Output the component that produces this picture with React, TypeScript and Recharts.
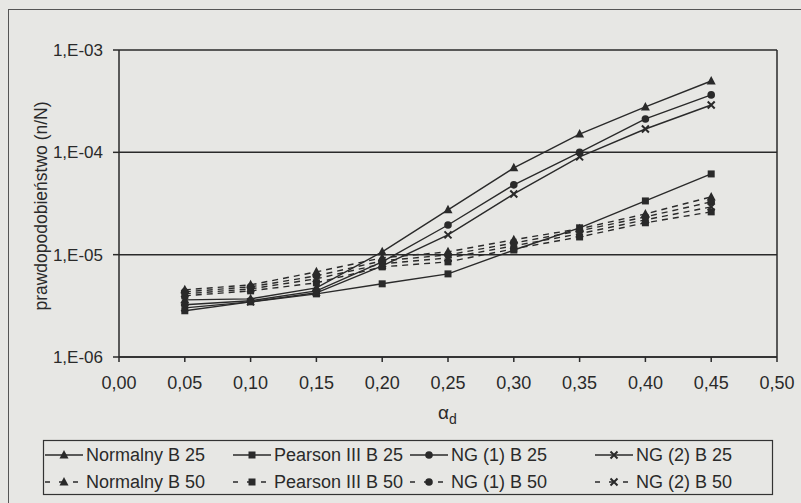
import React from 'react';
import { LineChart, Line, XAxis, YAxis, CartesianGrid, ReferenceLine } from 'recharts';

const alpha = [0.05, 0.1, 0.15, 0.2, 0.25, 0.3, 0.35, 0.4, 0.45];

// B 25 (solid)
const normalnyB25 = [3.62e-6, 3.7e-6, 4.74e-6, 1.065e-5, 2.74e-5, 7.05e-5, 1.51e-4, 2.78e-4, 4.98e-4];
const pearsonB25 = [2.83e-6, 3.46e-6, 4.14e-6, 5.19e-6, 6.49e-6, 1.11e-5, 1.83e-5, 3.35e-5, 6.15e-5];
const ng1B25 = [3.24e-6, 3.54e-6, 4.43e-6, 8.51e-6, 1.95e-5, 4.81e-5, 1.0e-4, 2.12e-4, 3.64e-4];
const ng2B25 = [3.02e-6, 3.46e-6, 4.24e-6, 7.78e-6, 1.56e-5, 3.92e-5, 9.02e-5, 1.69e-4, 2.9e-4];

// B 50 (dashed)
const normalnyB50 = [4.53e-6, 5.07e-6, 6.79e-6, 9.31e-6, 1.065e-5, 1.4e-5, 1.79e-5, 2.5e-5, 3.67e-5];
const pearsonB50 = [3.96e-6, 4.43e-6, 5.31e-6, 7.6e-6, 8.51e-6, 1.14e-5, 1.49e-5, 2.05e-5, 2.62e-5];
const ng1B50 = [4.33e-6, 4.85e-6, 6.21e-6, 8.7e-6, 9.95e-6, 1.3e-5, 1.71e-5, 2.34e-5, 3.28e-5];
const ng2B50 = [4.14e-6, 4.63e-6, 5.81e-6, 8.13e-6, 9.3e-6, 1.22e-5, 1.6e-5, 2.19e-5, 2.93e-5];

const xTicks = [0, 0.05, 0.1, 0.15, 0.2, 0.25, 0.3, 0.35, 0.4, 0.45, 0.5];
const yTicks = [1e-6, 1e-5, 1e-4, 1e-3];

const seriesNames = [
  'Normalny B 25', 'Pearson III B 25', 'NG (1) B 25', 'NG (2) B 25',
  'Normalny B 50', 'Pearson III B 50', 'NG (1) B 50', 'NG (2) B 50',
];

const data = alpha.map((a, i) => ({
  a,
  nB25: normalnyB25[i],
  pB25: pearsonB25[i],
  g1B25: ng1B25[i],
  g2B25: ng2B25[i],
  nB50: normalnyB50[i],
  pB50: pearsonB50[i],
  g1B50: ng1B50[i],
  g2B50: ng2B50[i],
}));

const INK = '#2a2a2a';
const BG = '#e7e7e4';
const FONT = '"Liberation Sans", Arial, sans-serif';

type Shape = 'tri' | 'sq' | 'circ' | 'x';

function Marker({ cx, cy, shape }: { cx: number; cy: number; shape: Shape }) {
  if (cx == null || cy == null) return null;
  if (shape === 'tri')
    return <path d={`M${cx},${cy - 5}L${cx + 4.5},${cy + 3.5}L${cx - 4.5},${cy + 3.5}Z`} fill={INK} />;
  if (shape === 'sq') return <rect x={cx - 3.5} y={cy - 3.5} width={7} height={7} fill={INK} />;
  if (shape === 'circ') return <circle cx={cx} cy={cy} r={3.8} fill={INK} />;
  return (
    <path d={`M${cx - 3.5},${cy - 3.5}L${cx + 3.5},${cy + 3.5}M${cx + 3.5},${cy - 3.5}L${cx - 3.5},${cy + 3.5}`} stroke={INK} strokeWidth={2} />
  );
}

const dotFor = (shape: Shape) => (p: any) => <Marker key={`${p.dataKey}-${p.index}`} cx={p.cx} cy={p.cy} shape={shape} />;

const lines: { key: string; shape: Shape; dashed: boolean }[] = [
  { key: 'nB25', shape: 'tri', dashed: false },
  { key: 'pB25', shape: 'sq', dashed: false },
  { key: 'g1B25', shape: 'circ', dashed: false },
  { key: 'g2B25', shape: 'x', dashed: false },
  { key: 'nB50', shape: 'tri', dashed: true },
  { key: 'pB50', shape: 'sq', dashed: true },
  { key: 'g1B50', shape: 'circ', dashed: true },
  { key: 'g2B50', shape: 'x', dashed: true },
];

const fmtX = (v: number) => v.toFixed(2).replace('.', ',');
const fmtY = (v: number) => '1,E-0' + Math.round(-Math.log10(v));

function LegendBox() {
  const cols = [45, 233, 410, 595];
  const rows = [455, 482];
  return (
    <svg width={801} height={503} style={{ position: 'absolute', left: 0, top: 0, pointerEvents: 'none' }}>
      <rect x={43.5} y={440.5} width={729} height={54} fill="none" stroke="#333" strokeWidth={1.2} />
      {lines.map((l, i) => {
        const x = cols[i % 4];
        const y = rows[Math.floor(i / 4)];
        return (
          <g key={l.key}>
            <line x1={x} y1={y} x2={x + 38} y2={y} stroke={INK} strokeWidth={1.4} strokeDasharray={l.dashed ? '5 9' : undefined} />
            <Marker cx={x + 19} cy={y} shape={l.shape} />
            <text x={x + 41} y={y + 6} fontSize={18} fontFamily={FONT} fill={INK}>
              {seriesNames[i]}
            </text>
          </g>
        );
      })}
    </svg>
  );
}

export default function App() {
  return (
    <div style={{ position: 'absolute', left: 0, top: 0, width: 801, height: 503, background: BG, overflow: 'hidden' }}>
      <div style={{ position: 'absolute', left: 8, top: 9, width: 900, height: 600, borderLeft: '1.5px solid #555', borderTop: '1.5px solid #555' }} />
      <LineChart width={801} height={503} data={data} margin={{ top: 50, right: 24, left: 0, bottom: 116 }}>
        <CartesianGrid vertical={false} stroke={INK} strokeWidth={1.5} />
        <XAxis
          dataKey="a"
          type="number"
          domain={[0, 0.5]}
          ticks={xTicks}
          tickFormatter={fmtX}
          height={30}
          tickSize={5}
          tickMargin={14}
          stroke={INK}
          strokeWidth={1.5}
          tick={{ fontSize: 18, fontFamily: FONT, fill: INK }}
          interval={0}
          label={{
            content: () => (
              <text x={438} y={419} fontSize={19} fontFamily={FONT} fill={INK}>
                α<tspan dy={5} fontSize={14}>d</tspan>
              </text>
            ),
          }}
        />
        <YAxis
          type="number"
          scale="log"
          domain={[1e-6, 1e-3]}
          allowDataOverflow
          ticks={yTicks}
          tickFormatter={fmtY}
          width={119}
          tickSize={6}
          tickMargin={10}
          stroke={INK}
          strokeWidth={1.5}
          tick={{ fontSize: 17, fontFamily: FONT, fill: INK }}
          interval={0}
          label={{
            content: () => (
              <text x={41} y={206} transform="rotate(-90 41 206)" textAnchor="middle" dominantBaseline="central" fontSize={17.5} fontFamily={FONT} fill={INK}>
                prawdopodobieństwo (n/N)
              </text>
            ),
          }}
        />
        <ReferenceLine x={0.5} stroke={INK} strokeWidth={1.5} />
        {lines.map((l) => (
          <Line
            key={l.key}
            dataKey={l.key}
            stroke={INK}
            strokeWidth={1.4}
            strokeDasharray={l.dashed ? '6 5' : undefined}
            dot={dotFor(l.shape)}
            activeDot={false}
            isAnimationActive={false}
          />
        ))}
      </LineChart>
      <LegendBox />
    </div>
  );
}
